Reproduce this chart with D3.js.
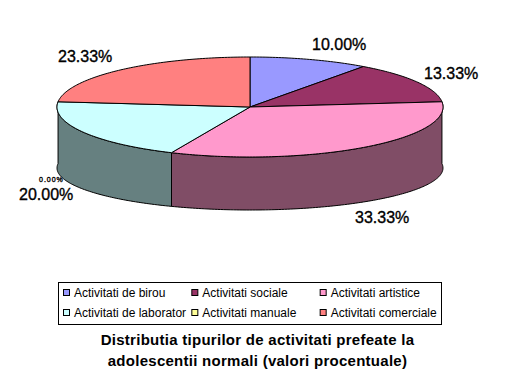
<!DOCTYPE html>
<html lang="en">
<head>
<meta charset="UTF-8">
<title>Distributia activitatilor</title>
<style>
  html, body { margin: 0; padding: 0; background: #fff; }
  svg { display: block; }
  text { font-family: "Liberation Sans", Arial, sans-serif; fill: #000; }
</style>
</head>
<body>
<script src="https://cdn.jsdelivr.net/npm/d3@7/dist/d3.min.js"></script>
<script>
var categories = ["Activitati de birou", "Activitati sociale", "Activitati artistice",
                  "Activitati de laborator", "Activitati manuale", "Activitati comerciale"];
var values = [10.00, 13.33, 33.33, 20.00, 0.00, 23.33];
var colors = ["#9999FF", "#993366", "#FF99CC", "#CCFFFF", "#FFFF99", "#FF8080"];
var wallColors = ["#4D4D80", "#4D1A33", "#804D66", "#668080", "#808050", "#804040"];
var titleLines = ["Distributia tipurilor de activitati prefeate la",
                  "adolescentii normali (valori procentuale)"];

var width = 506, height = 387;
var cx = 250, rx = 193;
var topY = 107, topRy = 50;      // top face of the pie
var baseY = 168, baseRy = 42;    // bottom rim is flatter, perspective

// where the value labels sit, same order as values
var labelX = [312, 424, 355, 19, 39, 58];
var labelY = [50, 79, 223, 200, 182, 62];

var svg = d3.select("body").append("svg")
    .attr("width", width)
    .attr("height", height);

var slices = d3.pie().sort(null)(values);

function onTop(a) { return [cx + rx * Math.sin(a), topY - topRy * Math.cos(a)]; }
function onBase(a) { return [cx + rx * Math.sin(a), baseY - baseRy * Math.cos(a)]; }

function samples(d) {
  var n = Math.max(2, Math.ceil((d.endAngle - d.startAngle) * 60));
  return d3.range(n + 1).map(function (i) {
    return d.startAngle + (d.endAngle - d.startAngle) * i / n;
  });
}

var line = d3.line();

// side wall, only slices that face the viewer
var front = slices.filter(function (d) {
  var mid = (d.startAngle + d.endAngle) / 2;
  return d.value > 0 && mid > Math.PI / 2 && mid < Math.PI * 3 / 2;
});

svg.selectAll("path.wall").data(front).enter().append("path")
    .attr("class", "wall")
    .attr("fill", function (d) { return wallColors[d.index]; })
    .attr("stroke", "#000")
    .attr("stroke-width", 1)
    .attr("stroke-linejoin", "round")
    .attr("d", function (d) {
      var as = samples(d);
      var pts = as.map(onTop).concat(as.slice().reverse().map(onBase));
      return line(pts) + "Z";
    });

// top face
svg.selectAll("path.slice").data(slices.filter(function (d) { return d.value > 0; })).enter().append("path")
    .attr("class", "slice")
    .attr("fill", function (d) { return colors[d.index]; })
    .attr("stroke", "#000")
    .attr("stroke-width", 1)
    .attr("stroke-linejoin", "round")
    .attr("d", function (d) {
      return line([[cx, topY]].concat(samples(d).map(onTop))) + "Z";
    });

// value labels
svg.selectAll("text.value").data(values).enter().append("text")
    .attr("class", "value")
    .attr("x", function (d, i) { return labelX[i]; })
    .attr("y", function (d, i) { return labelY[i]; })
    .attr("font-size", function (d) { return d === 0 ? 7 : 16; })
    .attr("letter-spacing", function (d) { return d === 0 ? 1 : 0; })
    .attr("stroke", "#000")
    .attr("stroke-width", 0.35)
    .text(function (d) { return d.toFixed(2) + "%"; });

// legend
svg.append("rect")
    .attr("x", 58.5).attr("y", 282.5)
    .attr("width", 383).attr("height", 42)
    .attr("fill", "#fff").attr("stroke", "#000");

var colX = d3.scaleBand().domain([0, 1, 2]).range([63, 448]);
var rowY = d3.scalePoint().domain([0, 1]).range([293, 313]);

var items = svg.selectAll("g.item").data(categories).enter().append("g")
    .attr("class", "item")
    .attr("transform", function (d, i) {
      return "translate(" + colX(i % 3) + "," + rowY(Math.floor(i / 3)) + ")";
    });
items.append("rect")
    .attr("x", 0.5).attr("y", -3.5)
    .attr("width", 6).attr("height", 6)
    .attr("fill", function (d, i) { return colors[i]; })
    .attr("stroke", "#000");
items.append("text")
    .attr("x", 11).attr("y", 4)
    .attr("font-size", 12)
    .text(function (d) { return d; });

// title
svg.selectAll("text.title").data(titleLines).enter().append("text")
    .attr("class", "title")
    .attr("x", 257.5)
    .attr("y", function (d, i) { return 345 + i * 21; })
    .attr("text-anchor", "middle")
    .attr("font-size", 15)
    .attr("letter-spacing", 0.27)
    .attr("font-weight", "bold")
    .text(function (d) { return d; });
</script>
</body>
</html>
